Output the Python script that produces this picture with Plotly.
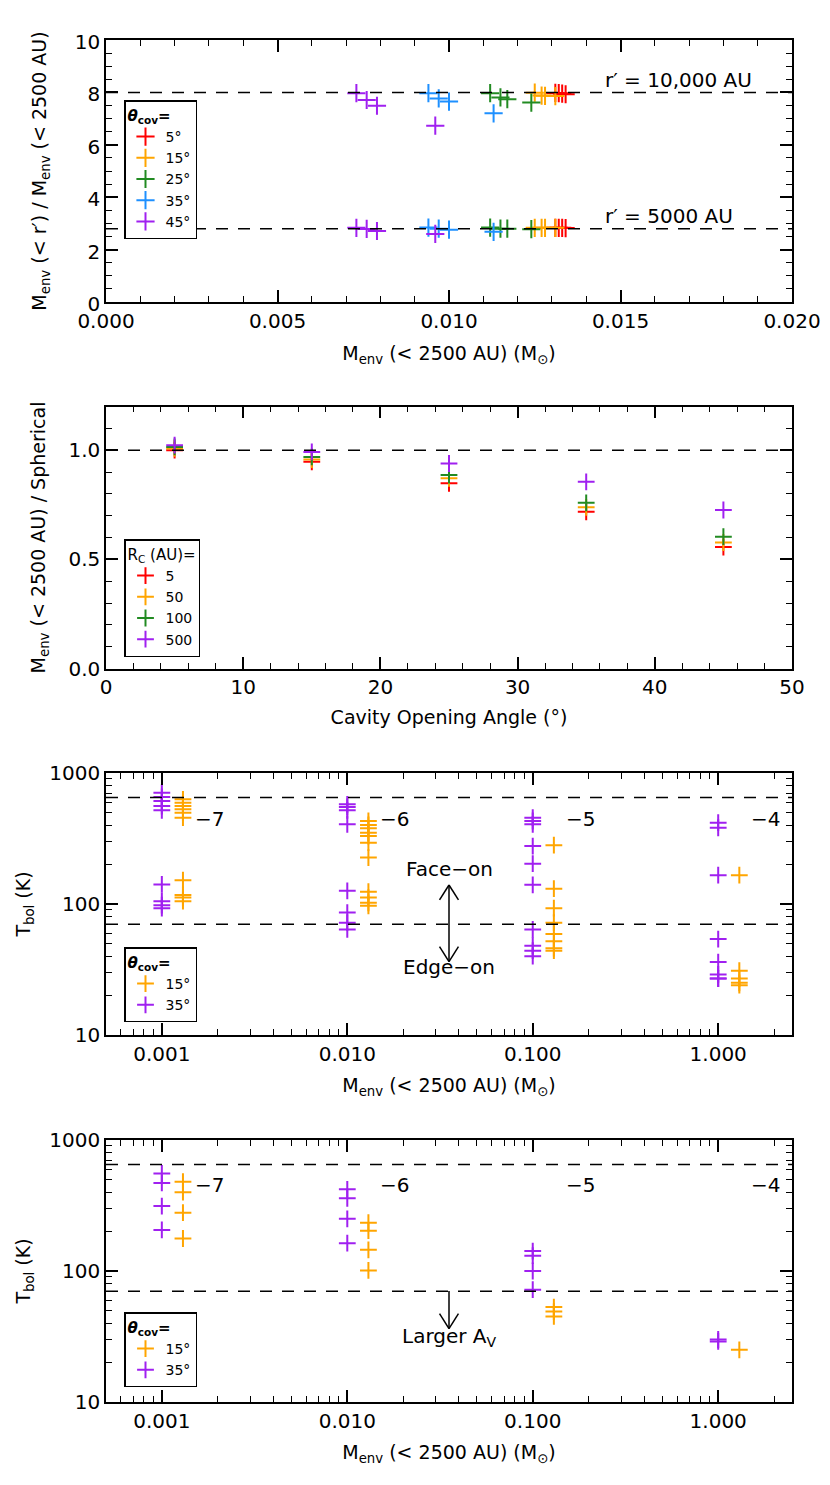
import numpy as np
import plotly.graph_objects as go

# ---- panel 1: M_env(<r') / M_env(<2500 AU) vs M_env(<2500 AU), by cavity angle
p1_theta = ["5°", "15°", "25°", "35°", "45°"]
p1_mass = [
    [0.0131, 0.0132, 0.0133, 0.0134],
    [0.0125, 0.0127, 0.0128, 0.0131],
    [0.0112, 0.0115, 0.0117, 0.0124],
    [0.0094, 0.0097, 0.0100, 0.0113],
    [0.0073, 0.0076, 0.0079, 0.0096],
]
p1_ratio_10000 = [
    [7.98, 7.97, 7.95, 7.93],
    [7.99, 7.88, 7.87, 7.86],
    [7.97, 7.81, 7.74, 7.61],
    [7.97, 7.77, 7.65, 7.20],
    [7.97, 7.71, 7.49, 6.73],
]
p1_ratio_5000 = [
    [2.83, 2.83, 2.83, 2.82],
    [2.83, 2.83, 2.83, 2.83],
    [2.84, 2.80, 2.80, 2.78],
    [2.84, 2.80, 2.76, 2.68],
    [2.83, 2.79, 2.71, 2.60],
]
p1_ref_lines = [8.0, 2.8]

# ---- panel 2: M_env(<2500 AU) / spherical vs cavity opening angle, by R_c
p2_angle = [5, 15, 25, 35, 45]
p2_rc = ["5", "50", "100", "500"]
p2_ratio = [
    [1.000, 0.947, 0.848, 0.718, 0.556],
    [1.008, 0.957, 0.871, 0.738, 0.577],
    [1.015, 0.969, 0.886, 0.759, 0.604],
    [1.023, 0.992, 0.939, 0.855, 0.726],
]

# ---- panels 3 and 4: T_bol vs M_env, theta_cov = 15 and 35 deg
tb_mass = [0.001, 0.01, 0.1, 1.0]
tb_mass_labels = ["−7", "−6", "−5", "−4"]
tb_lines = [650, 70]
p3_tbol_15 = [
    [630, 593, 560, 528, 498, 456, 152, 117, 112, 105],
    [430, 401, 378, 350, 330, 294, 226, 124, 112, 102, 97],
    [281, 131, 93, 72, 59, 52, 46, 44],
    [166, 31, 27, 25, 24],
]
p3_tbol_35 = [
    [707, 656, 611, 560, 519, 141, 105, 98, 93],
    [577, 550, 519, 406, 126, 86, 72, 64],
    [456, 430, 406, 277, 203, 140, 64, 48, 44, 40],
    [418, 382, 166, 54, 36, 29, 27, 27],
]
p4_tbol_15 = [
    [480, 400, 279, 177],
    [234, 203, 145, 101],
    [53, 49, 45],
    [25],
]
p4_tbol_35 = [
    [555, 470, 313, 206],
    [420, 359, 250, 163],
    [142, 131, 100, 72],
    [30, 29],
]

C5 = ["#ff0000", "#ffa500", "#228b22", "#1e90ff", "#a020f0"]
C_RC = ["#ff0000", "#ffa500", "#228b22", "#a020f0"]
FONT = "DejaVu Sans"
OFFSET_15 = 1.3  # theta=15 points drawn slightly right of their mass

# the page body adds an 8 px margin, so the figure is laid out 8 px up/left
W, H = 822, 1477
L, R, T, B = 98, 784, 32, 1394
PH = 262
tops = [32, 398.5, 765, 1132]


def py2paper(py):
    return (B - py) / (B - T)


def cross(color, size=13):
    return dict(symbol="cross-thin", size=size, color=color,
                line=dict(width=2, color=color))


fig = go.Figure()

for i, th in enumerate(p1_theta):
    fig.add_trace(go.Scatter(
        x=p1_mass[i] + p1_mass[i], y=p1_ratio_10000[i] + p1_ratio_5000[i],
        mode="markers", marker=cross(C5[i]), name=th,
        xaxis="x", yaxis="y", legend="legend"))

for i, rc in enumerate(p2_rc):
    fig.add_trace(go.Scatter(
        x=p2_angle, y=p2_ratio[i], mode="markers", marker=cross(C_RC[i], 12),
        name=rc, xaxis="x2", yaxis="y2", legend="legend2"))


def tb_traces(t15, t35, ax, leg):
    for vals, col, name, off in [(t15, "#ffa500", "15°", OFFSET_15),
                                 (t35, "#a020f0", "35°", 1.0)]:
        xs, ys = [], []
        for m, v in zip(tb_mass, vals):
            xs += [m * off] * len(v)
            ys += v
        fig.add_trace(go.Scatter(
            x=xs, y=ys, mode="markers", marker=cross(col, 12), name=name,
            xaxis="x" + ax, yaxis="y" + ax, legend=leg))


tb_traces(p3_tbol_15, p3_tbol_35, "3", "legend3")
tb_traces(p4_tbol_15, p4_tbol_35, "4", "legend4")

axis_common = dict(showline=True, linecolor="black", linewidth=1.5, mirror="ticks",
                   ticks="inside", ticklen=12, tickwidth=1.5, tickcolor="black",
                   showgrid=False, zeroline=False, automargin=False,
                   tickfont=dict(family=FONT, size=20, color="black"))
minor_common = dict(ticks="inside", ticklen=6, tickwidth=1.2, tickcolor="black",
                    showgrid=False)


def ydom(top):
    return [py2paper(top + PH), py2paper(top)]


mass_title = "M<sub>env</sub> (< 2500 AU) (M<sub>⊙</sub>)"
tfont = dict(family=FONT, size=19, color="black")

fig.update_layout(
    xaxis=dict(axis_common, anchor="y", domain=[0, 1], range=[0, 0.02], dtick=0.005,
               tickformat=".3f", minor=dict(minor_common, dtick=0.001),
               title=dict(text=mass_title, font=tfont, standoff=15)),
    yaxis=dict(axis_common, anchor="x", domain=ydom(tops[0]), range=[0, 10], dtick=2,
               minor=dict(minor_common, dtick=0.5), ticklabelshift=2,
               title=dict(text="M<sub>env</sub> (< r′) / M<sub>env</sub> (< 2500 AU)",
                          font=tfont, standoff=23)),
    xaxis2=dict(axis_common, anchor="y2", domain=[0, 1], range=[0, 50], dtick=10,
                minor=dict(minor_common, dtick=2),
                title=dict(text="Cavity Opening Angle (°)", font=tfont, standoff=12)),
    yaxis2=dict(axis_common, anchor="x2", domain=ydom(tops[1]), range=[0, 1.2], dtick=0.5,
                tickformat=".1f", minor=dict(minor_common, dtick=0.1),
                title=dict(text="M<sub>env</sub> (< 2500 AU) / Spherical",
                           font=tfont, standoff=18)),
)
for k in ["3", "4"]:
    top = tops[int(k) - 1]
    fig.update_layout({
        "xaxis" + k: dict(axis_common, anchor="y" + k, domain=[0, 1], type="log",
                          range=[np.log10(0.0005), np.log10(2.5)],
                          tickvals=tb_mass, ticktext=["0.001", "0.010", "0.100", "1.000"],
                          minor=dict(minor_common, dtick="D1"),
                          title=dict(text=mass_title, font=tfont, standoff=14)),
        "yaxis" + k: dict(axis_common, anchor="x" + k, domain=ydom(top), type="log",
                          range=[1, 3], tickvals=[10, 100, 1000],
                          ticktext=["10", "100", "1000"],
                          minor=dict(minor_common, dtick="D1"),
                          title=dict(text="T<sub>bol</sub> (K)", font=tfont, standoff=14)),
    })

dash = dict(color="black", width=1.5, dash="12px,10px")
shapes = []
for v in p1_ref_lines:
    shapes.append(dict(type="line", xref="x domain", yref="y", x0=0, x1=1, y0=v, y1=v, line=dash))
shapes.append(dict(type="line", xref="x2 domain", yref="y2", x0=0, x1=1, y0=1, y1=1, line=dash))
for k in ["3", "4"]:
    for v in tb_lines:
        shapes.append(dict(type="line", xref="x%s domain" % k, yref="y" + k,
                           x0=0, x1=1, y0=v, y1=v, line=dash))

# arrows (drawn in axis-domain coordinates)
arr = dict(color="black", width=1.5)
hx, hy = 0.0138, 0.057


def arrow_head(k, x, y, up):
    s = 1 if up else -1
    return [dict(type="line", xref="x%s domain" % k, yref="y%s domain" % k,
                 x0=x, y0=y, x1=x + d * hx, y1=y - s * hy, line=arr) for d in (-1, 1)]


shapes.append(dict(type="line", xref="x3 domain", yref="y3 domain",
                   x0=0.5, x1=0.5, y0=0.28, y1=0.5725, line=arr))
shapes += arrow_head("3", 0.5, 0.5725, True)
shapes += arrow_head("3", 0.5, 0.28, False)
shapes.append(dict(type="line", xref="x4 domain", yref="y4 domain",
                   x0=0.5, x1=0.5, y0=0.28, y1=0.424, line=arr))
shapes += arrow_head("4", 0.5, 0.28, False)
fig.update_layout(shapes=shapes)

afont = dict(family=FONT, size=20, color="black")
ann = [
    dict(text="r′ = 10,000 AU", xref="x domain", yref="y domain", x=0.7245, y=0.847,
         xanchor="left", yanchor="middle", showarrow=False, font=afont),
    dict(text="r′ = 5000 AU", xref="x domain", yref="y domain", x=0.7245, y=0.328,
         xanchor="left", yanchor="middle", showarrow=False, font=afont),
    dict(text="Face−on", xref="x3 domain", yref="y3 domain", x=0.5, y=0.632,
         showarrow=False, font=afont),
    dict(text="Edge−on", xref="x3 domain", yref="y3 domain", x=0.5, y=0.205,
         showarrow=False, font=afont),
    dict(text="Larger A<sub>V</sub>", xref="x4 domain", yref="y4 domain", x=0.5, y=0.19,
         showarrow=False, font=afont),
]
for k, ylab in [("3", 446), ("4", 453)]:
    for m, lab in zip(tb_mass, tb_mass_labels):
        ann.append(dict(text=lab, xref="x" + k, yref="y" + k, x=np.log10(m * 1.8),
                        y=np.log10(ylab), showarrow=False, font=afont))
fig.update_layout(annotations=ann)

lfont = dict(family=FONT, size=14, color="black")
leg_common = dict(x=(116 - L) / (R - L), xanchor="left", yanchor="top",
                  bgcolor="white", bordercolor="black", borderwidth=1.5,
                  font=lfont, tracegroupgap=0, itemwidth=30)
theta_title = dict(text="<b><i>θ</i><sub>cov</sub>=</b>", font=dict(lfont, size=15))
fig.update_layout(
    legend=dict(leg_common, y=py2paper(92), title=theta_title),
    legend2=dict(leg_common, y=py2paper(531),
                 title=dict(text="R<sub>C</sub> (AU)=", font=dict(lfont, size=15))),
    legend3=dict(leg_common, y=py2paper(939), title=theta_title),
    legend4=dict(leg_common, y=py2paper(1304), title=theta_title),
)

fig.update_layout(
    width=W, height=H,
    margin=dict(l=L, r=W - R, t=T, b=H - B),
    paper_bgcolor="white", plot_bgcolor="white",
    font=dict(family=FONT, color="black"),
)

fig.write_html("out.html")
